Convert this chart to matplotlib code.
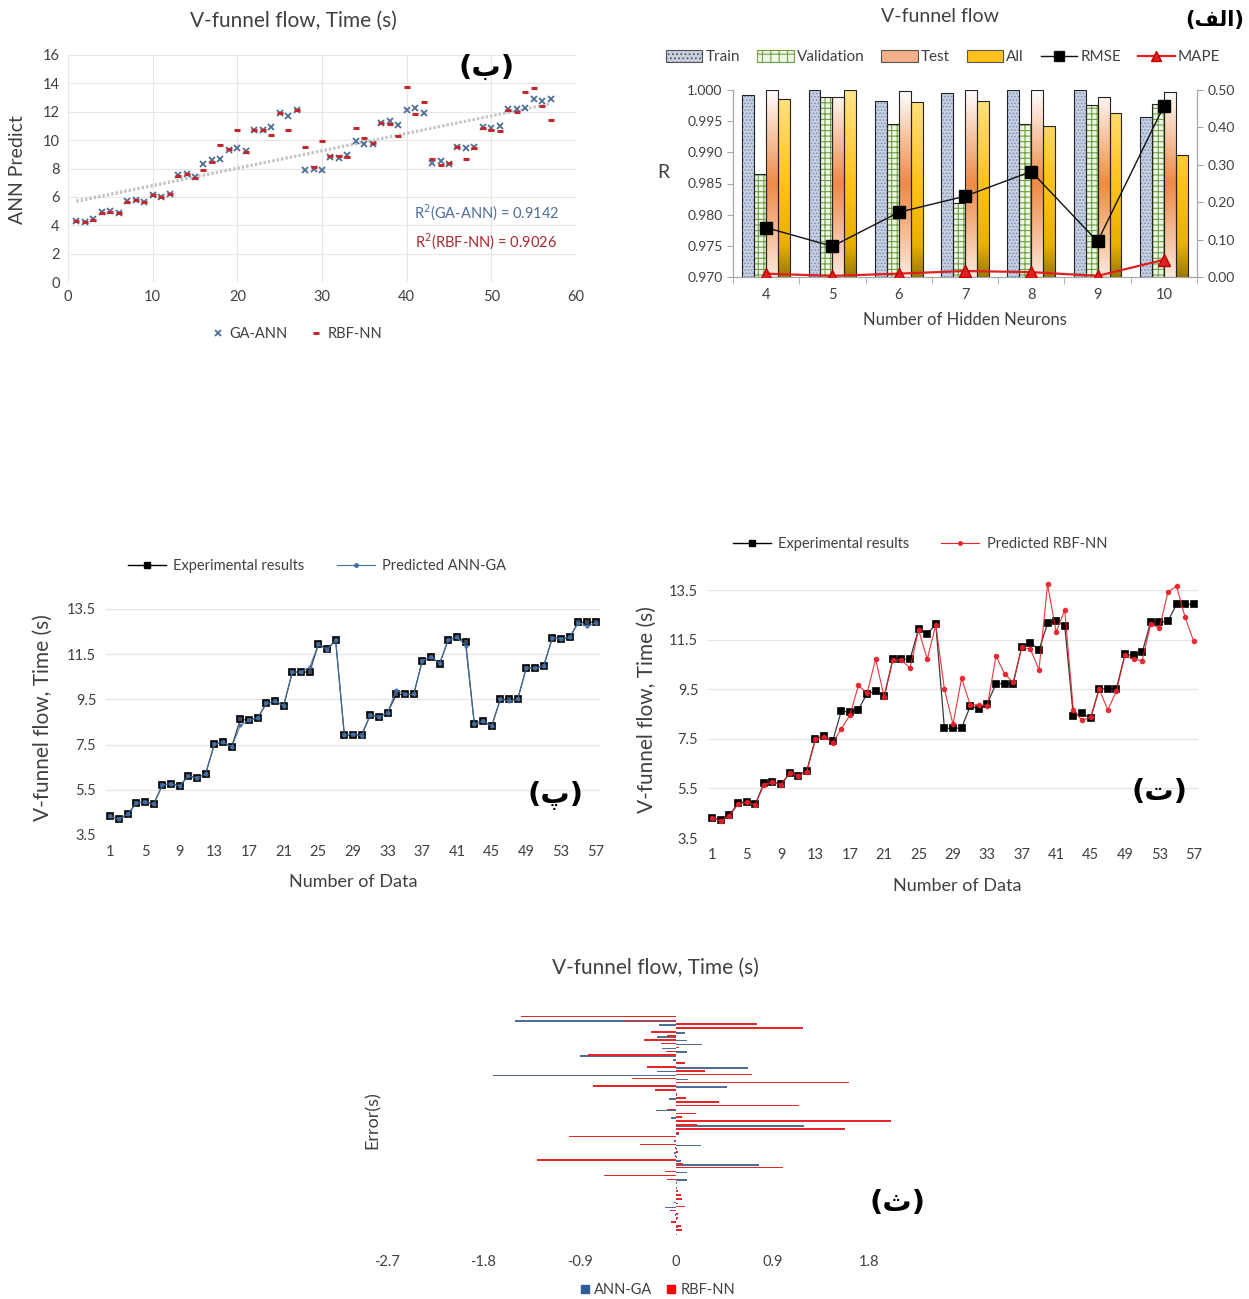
import numpy as np
import matplotlib
matplotlib.use('Agg')
import matplotlib.pyplot as plt
from matplotlib.lines import Line2D
from matplotlib.patches import Patch, Rectangle
from matplotlib.colors import LinearSegmentedColormap
from matplotlib.ticker import FormatStrFormatter, FixedLocator

plt.rcParams['font.family'] = ['Lato', 'DejaVu Sans']
plt.rcParams['hatch.linewidth'] = 0.8

# ---------------- data ----------------
data_index = list(range(1, 58))
experimental = [4.32, 4.21, 4.42, 4.91, 4.97, 4.86, 5.71, 5.77, 5.67, 6.11, 6.02, 6.22,
                7.51, 7.61, 7.40, 8.62, 8.57, 8.68, 9.32, 9.42, 9.23, 10.71, 10.71, 10.71,
                11.93, 11.73, 12.11, 7.92, 7.92, 7.94, 8.81, 8.72, 8.92, 9.72, 9.72, 9.72,
                11.22, 11.38, 11.08, 12.15, 12.24, 12.05, 8.41, 8.54, 8.32, 9.51, 9.51, 9.51,
                10.90, 10.87, 10.98, 12.22, 12.19, 12.24, 12.92, 12.92, 12.92]
pred_ann = [4.32, 4.21, 4.42, 4.91, 4.97, 4.86, 5.71, 5.77, 5.67, 6.11, 6.02, 6.22,
            7.51, 7.61, 7.40, 8.35, 8.57, 8.68, 9.32, 9.42, 9.23, 10.71, 10.71, 10.92,
            11.93, 11.70, 12.11, 7.92, 7.97, 7.90, 8.81, 8.72, 8.92, 9.92, 9.72, 9.72,
            11.22, 11.38, 11.10, 12.15, 12.24, 11.88, 8.41, 8.54, 8.32, 9.51, 9.42, 9.51,
            10.90, 10.87, 10.98, 12.22, 12.19, 12.24, 12.90, 12.76, 12.88]
pred_rbf = [4.29, 4.20, 4.40, 4.87, 4.94, 4.84, 5.65, 5.75, 5.65, 6.12, 6.01, 6.18,
            7.49, 7.59, 7.33, 7.90, 8.45, 9.65, 9.34, 10.71, 9.18, 10.68, 10.68, 10.35,
            11.89, 10.71, 12.09, 9.50, 8.09, 9.94, 8.87, 8.87, 8.83, 10.84, 10.12, 9.78,
            11.19, 11.12, 10.28, 13.73, 11.81, 12.69, 8.67, 8.24, 8.37, 9.51, 8.67, 9.41,
            10.88, 10.71, 10.65, 12.13, 11.96, 13.41, 13.66, 12.40, 11.43]
err_ann = [0.01, 0.0, 0.02, 0.0, 0.01, -0.01, 0.0, -0.10, 0.02, 0.0, 0.0, 0.0,
           0.01, 0.0, 0.10, 0.0, 0.10, 0.0, 0.78, 0.05, 0.01, -0.02, 0.01, 0.23,
           -0.02, 0.0, 0.03, 0.0, 1.20, 0.0, -0.05, 0.0, -0.19, 0.0, 0.0, -0.07,
           0.01, 0.0, 0.48, 0.0, 0.11, -1.71, -0.18, 0.67, 0.0, -0.03, -0.90, 0.10,
           -0.13, 0.24, 0.10, -0.18, 0.08, 0.0, -0.16, -1.50, 0.0]
err_rbf = [0.0, 0.06, 0.05, -0.05, 0.02, 0.02, -0.06, 0.08, -0.02, 0.06, 0.05, 0.02,
           0.0, 0.01, -0.08, -0.67, -0.10, 1.00, 0.07, -1.30, -0.01, 0.02, -0.01, -0.34,
           -0.02, -1.00, 0.03, 1.58, 0.20, 2.01, 0.06, 0.19, -0.08, 1.15, 0.40, 0.09,
           0.01, -0.20, -0.78, 1.62, -0.41, 0.71, 0.27, -0.27, 0.08, 0.0, -0.82, -0.09,
           0.03, -0.14, -0.30, -0.08, -0.23, 1.19, 0.76, -0.49, -1.45]

neurons = ['4', '5', '6', '7', '8', '9', '10']
r_train = [0.99914, 1.00000, 0.99818, 0.99952, 1.00000, 1.00000, 0.99561]
r_validation = [0.98655, 0.99882, 0.99459, 0.98195, 0.99454, 0.99764, 0.99770]
r_test = [1.00000, 0.99893, 0.99979, 1.00000, 1.00000, 0.99893, 0.99973]
r_all = [0.99861, 1.00000, 0.99807, 0.99829, 0.99421, 0.99636, 0.98961]
rmse = [0.132, 0.082, 0.173, 0.216, 0.282, 0.095, 0.457]
mape = [0.009, 0.003, 0.009, 0.016, 0.013, 0.003, 0.046]

# ---------------- figure ----------------
W, H = 1249, 1299
fig = plt.figure(figsize=(W / 100, H / 100), dpi=100)
fig.patch.set_facecolor('white')


def ax_px(x0, y0, x1, y1):
    return fig.add_axes([x0 / W, 1 - y1 / H, (x1 - x0) / W, (y1 - y0) / H])


def ftext(x, y, s, **kw):
    return fig.text(x / W, 1 - y / H, s, **kw)


ar_kw = dict(family=['DejaVu Sans'], fontweight='bold', ha='center', va='center')
TXT = '#404040'

# ---------- (ب) scatter ----------
ax1 = ax_px(68, 55, 576, 282)
x = np.array(data_index)
for ys, c in ((pred_ann, '#BDBDBD'), (pred_rbf, '#C8C8C8')):
    k, b = np.polyfit(x, ys, 1)
    ax1.plot([x[0], x[-1]], [k * x[0] + b, k * x[-1] + b], ls=(0, (1, 1)), lw=1.6, color=c, zorder=2)
ax1.plot(x, pred_ann, ls='none', marker='x', ms=4, mew=1.3, color='#4F6E96', zorder=3)
ax1.plot(x, pred_rbf, ls='none', marker='_', ms=4, mew=2.2, color='#C0282C', zorder=4)
ax1.set_xlim(0, 60)
ax1.set_ylim(0, 16)
ax1.set_xticks(range(0, 61, 10))
ax1.set_yticks(range(0, 17, 2))
ax1.grid(True, color='#E6E6E6', lw=0.8)
ax1.set_axisbelow(True)
for s in ax1.spines.values():
    s.set_visible(False)
ax1.tick_params(length=0, labelsize=10.5, labelcolor=TXT, pad=6)
ftext(293, 21, 'V-funnel flow, Time (s)', fontsize=15, ha='center', va='center', color=TXT)
ftext(18, 170, 'ANN Predict', fontsize=14, rotation=90, ha='center', va='center', color=TXT)
ftext(487, 213, 'R$^2$(GA-ANN) = 0.9142', fontsize=10.5, ha='center', va='center', color='#4F6E96')
ftext(486, 242, 'R$^2$(RBF-NN) = 0.9026', fontsize=10.5, ha='center', va='center', color='#A82A2E')
ftext(487, 68, '(\u0628)', fontsize=21, **ar_kw)
h1 = [Line2D([], [], ls='none', marker='x', ms=4, mew=1.3, color='#4F6E96'),
      Line2D([], [], ls='none', marker='_', ms=4, mew=2.2, color='#C0282C')]
fig.legend(h1, ['GA-ANN', 'RBF-NN'], loc='center', bbox_to_anchor=(297 / W, 1 - 334 / H),
           ncol=2, frameon=False, fontsize=10.5, handlelength=0.8, handletextpad=0.4,
           columnspacing=1.5, labelcolor=TXT)

# ---------- (الف) bar chart ----------
ax2 = ax_px(733, 90, 1197, 277)
pos = np.arange(len(neurons))
bw = 0.18
offs = [-0.27, -0.09, 0.09, 0.27]
ymin, ymax = 0.970, 1.000

cm_test = LinearSegmentedColormap.from_list('t', [(0, '#FCE9DC'), (0.5, '#EE8A44'), (1, '#FFFFFF')])
cm_all = LinearSegmentedColormap.from_list('a', [(0, '#9A7A05'), (0.17, '#E8B000'), (0.5, '#FFC21A'), (1, '#FFE48A')])
grad = np.linspace(0, 1, 256).reshape(-1, 1)

for i in range(len(neurons)):
    xl = pos[i] + offs[0] - bw / 2
    ax2.add_patch(Rectangle((xl, ymin), bw, r_train[i] - ymin, facecolor='#C8D0E2',
                            edgecolor='#7F93B5', hatch='.....', lw=0, zorder=2))
    ax2.add_patch(Rectangle((xl, ymin), bw, r_train[i] - ymin, facecolor='none',
                            edgecolor='#222222', lw=0.8, zorder=3))
    xl = pos[i] + offs[1] - bw / 2
    ax2.add_patch(Rectangle((xl, ymin), bw, r_validation[i] - ymin, facecolor='#EEF6E4',
                            edgecolor='#6FA046', hatch='+++', lw=0, zorder=2))
    ax2.add_patch(Rectangle((xl, ymin), bw, r_validation[i] - ymin, facecolor='none',
                            edgecolor='#222222', lw=0.8, zorder=3))
    for vals, cm, k in ((r_test, cm_test, 2), (r_all, cm_all, 3)):
        xl = pos[i] + offs[k] - bw / 2
        rect = Rectangle((xl, ymin), bw, vals[i] - ymin, facecolor='none',
                         edgecolor='#222222', lw=0.8, zorder=3)
        ax2.add_patch(rect)
        im = ax2.imshow(grad, extent=[xl, xl + bw, ymin, ymax], origin='lower',
                        aspect='auto', cmap=cm, zorder=2, interpolation='bilinear')
        im.set_clip_path(rect)

ax2.set_xlim(-0.5, len(neurons) - 0.5)
ax2.set_ylim(ymin, ymax)
ax2.set_xticks(pos)
ax2.set_xticklabels(neurons)
ax2.xaxis.set_minor_locator(FixedLocator(np.arange(-0.5, len(neurons), 1.0)))
ax2.tick_params(axis='x', which='major', length=0, labelsize=10.5, labelcolor=TXT, pad=8)
ax2.tick_params(axis='x', which='minor', length=5, color='#A6A6A6')
ax2.set_yticks(np.arange(0.970, 1.0001, 0.005))
ax2.yaxis.set_major_formatter(FormatStrFormatter('%.3f'))
ax2.tick_params(axis='y', length=4, color='#A6A6A6', labelsize=10, labelcolor=TXT)
for s in ax2.spines.values():
    s.set_color('#A6A6A6')
ax2.spines['top'].set_visible(False)

ax2b = ax2.twinx()
ax2b.plot(pos, rmse, color='#111111', lw=1, marker='s', ms=9, mfc='black', mec='black', zorder=5)
ax2b.plot(pos, mape, color='#E02020', lw=1.6, marker='^', ms=8, mfc='#E02020', mec='#C00000', zorder=5)
ax2b.set_ylim(0, 0.5)
ax2b.set_yticks(np.arange(0, 0.501, 0.1))
ax2b.yaxis.set_major_formatter(FormatStrFormatter('%.2f'))
ax2b.tick_params(axis='y', length=4, color='#A6A6A6', labelsize=10, labelcolor=TXT)
for s in ax2b.spines.values():
    s.set_color('#A6A6A6')
ax2b.spines['top'].set_visible(False)

ftext(940, 17, 'V-funnel flow', fontsize=14, ha='center', va='center', color=TXT)
ftext(663, 173, 'R', fontsize=14, ha='center', va='center', color=TXT)
ftext(965, 320, 'Number of Hidden Neurons', fontsize=12, ha='center', va='center', color=TXT)
ftext(1215, 20, '(\uFED2\uFEDF\uFE8D)', fontsize=15, **ar_kw)
h2 = [Patch(facecolor='#C8D0E2', edgecolor='#555555', hatch='....', lw=0.8),
      Patch(facecolor='#EEF6E4', edgecolor='#6FA046', hatch='++', lw=0.8),
      Patch(facecolor='#F4B088', edgecolor='#555555', lw=0.8),
      Patch(facecolor='#FFC21A', edgecolor='#555555', lw=0.8),
      Line2D([], [], color='#111111', lw=1, marker='s', ms=7, mfc='black'),
      Line2D([], [], color='#E02020', lw=1.6, marker='^', ms=7, mfc='#E02020', mec='#C00000')]
fig.legend(h2, ['Train', 'Validation', 'Test', 'All', 'RMSE', 'MAPE'], loc='center',
           bbox_to_anchor=(943 / W, 1 - 57 / H), ncol=6, frameon=False, fontsize=11,
           handlelength=2.4, handleheight=0.9, handletextpad=0.2, columnspacing=1.1,
           labelcolor=TXT)


# ---------- (پ) and (ت) line charts ----------
def line_panel(box, pred, pcol, sq_fc, pms, label_pred, legend_xy, ylab_xy, xlab_xy,
               tag, tag_xy):
    ax = ax_px(*box)
    ax.plot(data_index, experimental, color='#3A3A3A', lw=0.9, marker='s', ms=5,
            mfc=sq_fc, mec='black', mew=1.2, zorder=3, clip_on=False)
    ax.plot(data_index, pred, color=pcol, lw=0.8, marker='o', ms=pms,
            mfc=pcol, mec=pcol, zorder=4, alpha=0.9, clip_on=False)
    ax.set_xlim(0.5, 57.5)
    ax.set_ylim(3.5, 13.5)
    ax.set_xticks(range(1, 58, 4))
    ax.set_yticks(np.arange(3.5, 13.51, 2))
    ax.yaxis.set_major_formatter(FormatStrFormatter('%.1f'))
    ax.grid(True, axis='y', color='#E6E6E6', lw=0.9)
    ax.set_axisbelow(True)
    for s in ax.spines.values():
        s.set_visible(False)
    ax.tick_params(length=0, labelsize=10.5, labelcolor=TXT, pad=7)
    ftext(ylab_xy[0], ylab_xy[1], 'V-funnel flow, Time (s)', fontsize=15, rotation=90,
          ha='center', va='center', color=TXT)
    ftext(xlab_xy[0], xlab_xy[1], 'Number of Data', fontsize=13, ha='center', va='center', color=TXT)
    ftext(tag_xy[0], tag_xy[1], tag, fontsize=21, **ar_kw)
    hh = [Line2D([], [], color='black', lw=1, marker='s', ms=5, mfc='black'),
          Line2D([], [], color=pcol, lw=0.8, marker='o', ms=2.5, mfc=pcol, mec=pcol)]
    fig.legend(hh, ['Experimental results', label_pred], loc='center',
               bbox_to_anchor=(legend_xy[0] / W, 1 - legend_xy[1] / H), ncol=2, frameon=False,
               fontsize=10.5, handlelength=2.6, handletextpad=0.5, columnspacing=2.2,
               labelcolor=TXT)
    return ax


line_panel((106, 609, 600, 835), pred_ann, '#4472A8', '#3E4A5C', 2.0, 'Predicted ANN-GA',
           (317, 566), (43, 718), (353, 882), '(\u067E)', (555, 795))
line_panel((708, 590, 1198, 838), pred_rbf, '#E8202A', 'black', 3.0, 'Predicted RBF-NN',
           (920, 544), (647, 710), (957, 886), '(\u062A)', (1160, 792))

# ---------- (ث) error bar chart ----------
ax5 = ax_px(387, 1015, 965, 1236)
yy = np.array(data_index, dtype=float)
ax5.barh(yy - 0.12, err_ann, height=0.42, color='#4F6E96', zorder=2)
ax5.barh(yy + 0.12, err_rbf, height=0.42, color='#E8262A', zorder=3)
ax5.set_xlim(-2.7, 2.7)
ax5.set_ylim(0.5, 57.5)
ax5.set_xticks([-2.7, -1.8, -0.9, 0, 0.9, 1.8])
ax5.set_xticklabels(['-2.7', '-1.8', '-0.9', '0', '0.9', '1.8'])
ax5.set_yticks([])
for s in ax5.spines.values():
    s.set_visible(False)
ax5.tick_params(axis='x', length=0, labelsize=10.5, labelcolor=TXT, pad=14)
ftext(655, 968, 'V-funnel flow, Time (s)', fontsize=15, ha='center', va='center', color=TXT)
ftext(373, 1120, 'Error(s)', fontsize=13, rotation=90, ha='center', va='center', color=TXT)
ftext(898, 1203, '(\u062B)', fontsize=21, **ar_kw)
h5 = [Line2D([], [], ls='none', marker='s', ms=6, color='#2F5D9A'),
      Line2D([], [], ls='none', marker='s', ms=6, color='#FF0000')]
fig.legend(h5, ['ANN-GA', 'RBF-NN'], loc='center', bbox_to_anchor=(658 / W, 1 - 1290 / H),
           ncol=2, frameon=False, fontsize=10.5, handlelength=0.6, handletextpad=0.3,
           columnspacing=1.0, labelcolor=TXT)

fig.savefig('out.png', dpi=100, facecolor='white')
